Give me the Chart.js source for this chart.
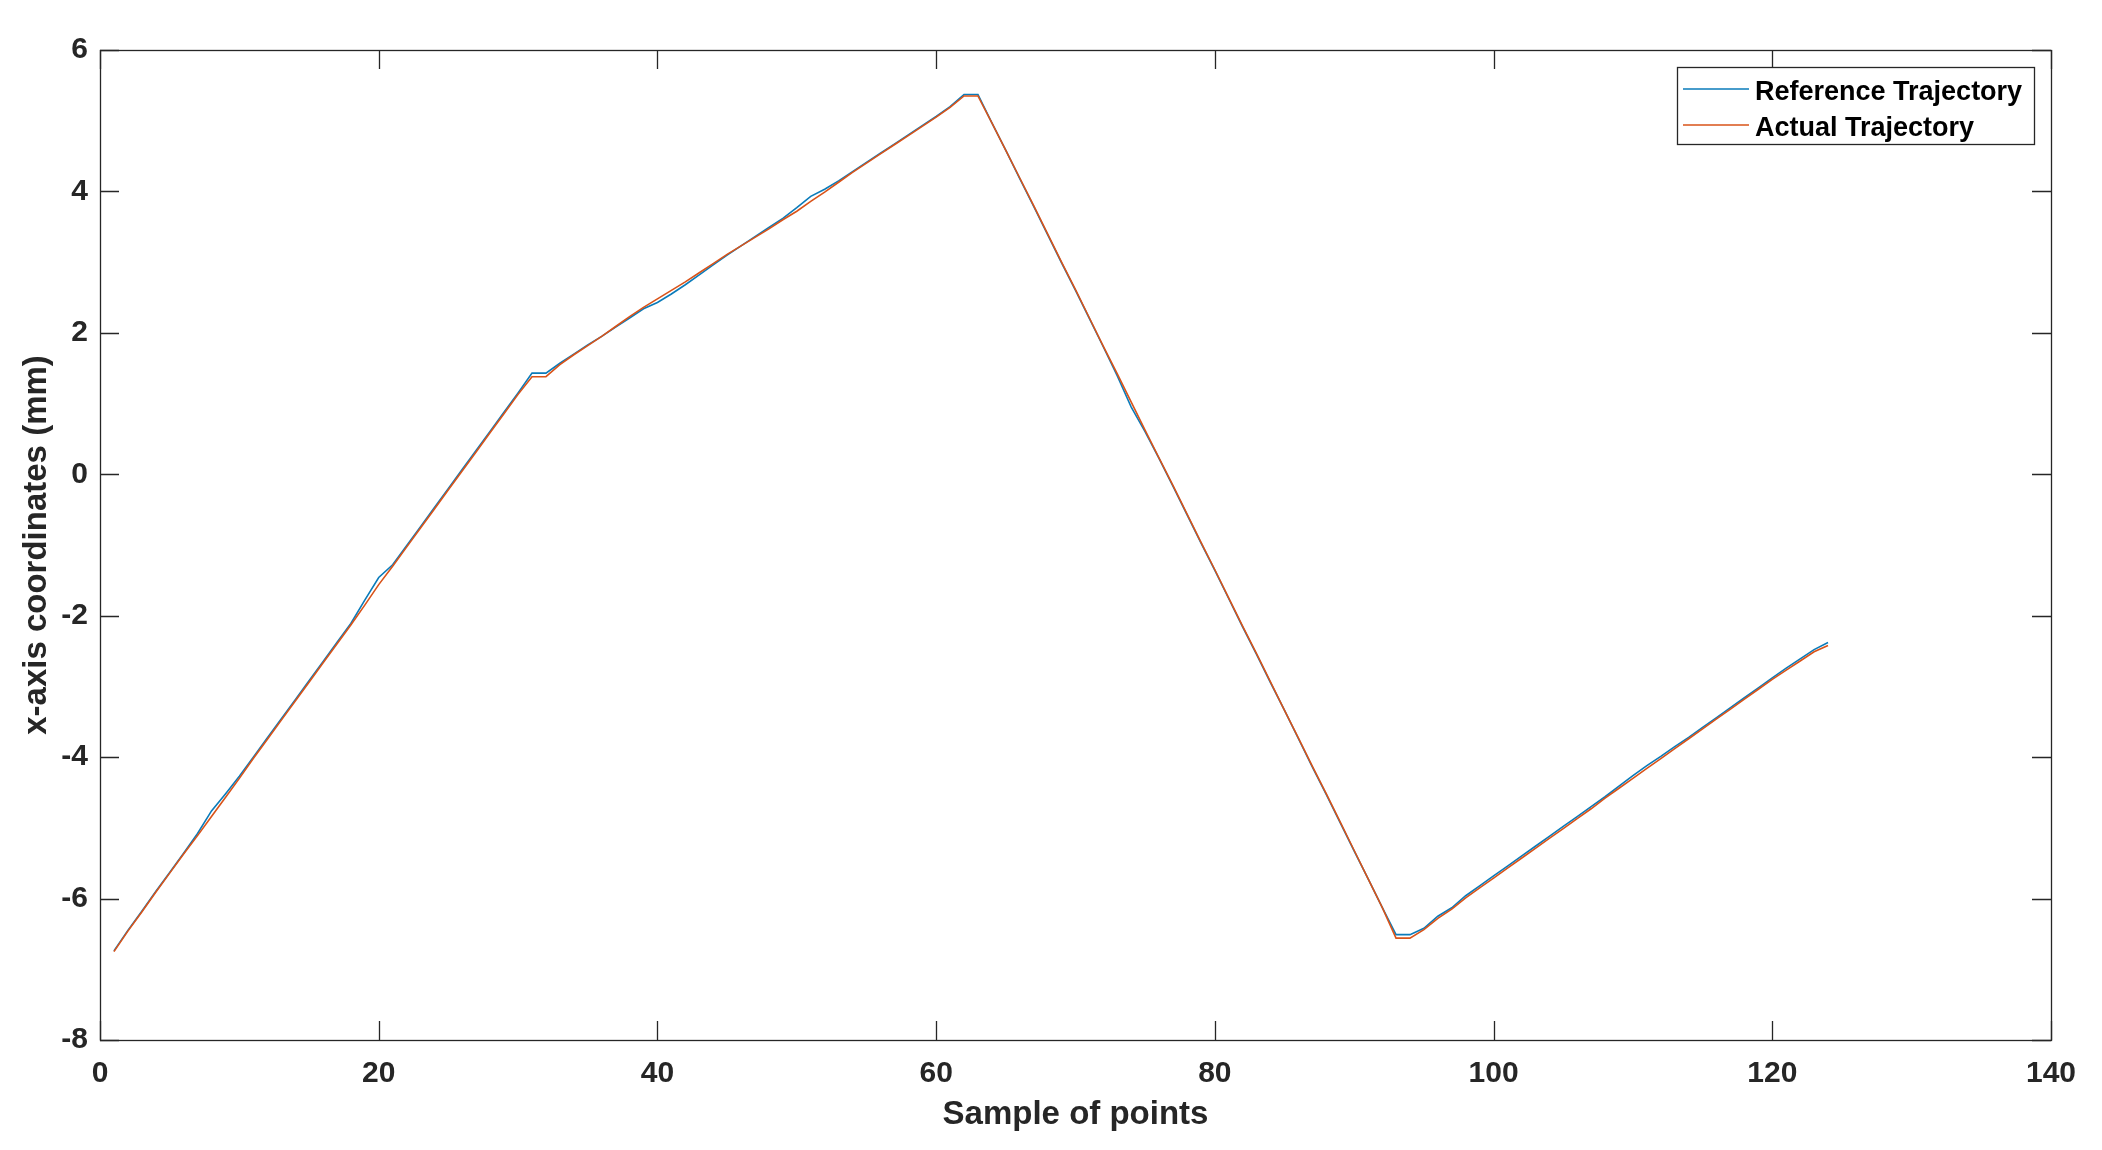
<!DOCTYPE html>
<html lang="en">
<head>
  <meta charset="UTF-8">
  <title>Trajectory - x axis</title>
  <script src="https://cdn.jsdelivr.net/npm/chart.js"></script>
  <style>
    html, body { margin: 0; padding: 0; background: #fff; }
    #wrap { width: 2102px; height: 1150px; }
  </style>
</head>
<body>
  <div id="wrap"><canvas id="grafico"></canvas></div>
  <script>
    // sample numbers 1..124
    const samples = Array.from({ length: 124 }, (_, i) => i + 1);

    const referenceX = [
      -6.74, -6.45, -6.18, -5.90, -5.63, -5.36, -5.08, -4.76, -4.52, -4.27,
      -4.00, -3.73, -3.46, -3.19, -2.92, -2.65, -2.38, -2.11, -1.78, -1.46,
      -1.28, -1.01, -0.74, -0.47, -0.20, 0.07, 0.34, 0.61, 0.88, 1.15,
      1.43, 1.43, 1.57, 1.70, 1.83, 1.95, 2.08, 2.21, 2.34, 2.43,
      2.55, 2.68, 2.82, 2.96, 3.10, 3.23, 3.36, 3.49, 3.62, 3.77,
      3.93, 4.03, 4.15, 4.28, 4.41, 4.54, 4.67, 4.80, 4.93, 5.06,
      5.20, 5.37, 5.37, 4.97, 4.58, 4.18, 3.79, 3.39, 2.99, 2.60,
      2.20, 1.80, 1.39, 0.95, 0.60, 0.22, -0.17, -0.57, -0.97, -1.36,
      -1.76, -2.16, -2.55, -2.95, -3.34, -3.74, -4.14, -4.53, -4.93, -5.33,
      -5.72, -6.12, -6.51, -6.51, -6.42, -6.25, -6.13, -5.96, -5.82, -5.68,
      -5.54, -5.40, -5.26, -5.12, -4.98, -4.84, -4.70, -4.56, -4.41, -4.26,
      -4.12, -3.99, -3.85, -3.72, -3.58, -3.44, -3.30, -3.16, -3.02, -2.88,
      -2.74, -2.61, -2.48, -2.38
    ];

    const actualX = [
      -6.75, -6.46, -6.19, -5.91, -5.64, -5.37, -5.11, -4.84, -4.57, -4.30,
      -4.02, -3.75, -3.48, -3.21, -2.94, -2.67, -2.40, -2.13, -1.85, -1.56,
      -1.30, -1.03, -0.76, -0.49, -0.22, 0.05, 0.32, 0.59, 0.86, 1.13,
      1.38, 1.38, 1.55, 1.69, 1.82, 1.95, 2.09, 2.23, 2.36, 2.48,
      2.60, 2.72, 2.85, 2.98, 3.11, 3.23, 3.35, 3.47, 3.60, 3.72,
      3.86, 3.99, 4.13, 4.27, 4.40, 4.53, 4.66, 4.79, 4.92, 5.05,
      5.19, 5.35, 5.35, 4.97, 4.58, 4.19, 3.80, 3.40, 3.00, 2.61,
      2.21, 1.81, 1.42, 1.02, 0.62, 0.23, -0.16, -0.56, -0.96, -1.35,
      -1.75, -2.15, -2.54, -2.94, -3.34, -3.73, -4.13, -4.52, -4.92, -5.32,
      -5.72, -6.12, -6.56, -6.56, -6.44, -6.28, -6.15, -5.99, -5.85, -5.71,
      -5.57, -5.43, -5.29, -5.15, -5.01, -4.87, -4.73, -4.58, -4.44, -4.30,
      -4.16, -4.02, -3.88, -3.74, -3.60, -3.46, -3.32, -3.18, -3.04, -2.90,
      -2.77, -2.64, -2.51, -2.42
    ];

    const xTicks = [0, 20, 40, 60, 80, 100, 120, 140];
    const yTicks = [-8, -6, -4, -2, 0, 2, 4, 6];
    const seriesNames = ["Reference Trajectory", "Actual Trajectory"];

    const eixo = "#262626";
    const fonte = "'Liberation Sans', Arial, sans-serif";

    const pontos = (ys) => samples.map((s, i) => ({ x: s, y: ys[i] }));

    // box, inward ticks on all four sides
    const moldura = {
      id: "moldura",
      afterDatasetsDraw(chart) {
        const { ctx, chartArea: a, scales } = chart;
        const tl = 19;
        ctx.save();
        ctx.strokeStyle = eixo;
        ctx.lineWidth = 1.3;
        ctx.beginPath();
        xTicks.forEach(v => {
          const px = Math.round(scales.x.getPixelForValue(v)) + 0.5;
          ctx.moveTo(px, a.bottom); ctx.lineTo(px, a.bottom - tl);
          ctx.moveTo(px, a.top); ctx.lineTo(px, a.top + tl);
        });
        yTicks.forEach(v => {
          const py = Math.round(scales.y.getPixelForValue(v)) + 0.5;
          ctx.moveTo(a.left, py); ctx.lineTo(a.left + tl, py);
          ctx.moveTo(a.right, py); ctx.lineTo(a.right - tl, py);
        });
        ctx.stroke();
        ctx.strokeRect(Math.round(a.left) + 0.5, Math.round(a.top) + 0.5,
          Math.round(a.right - a.left), Math.round(a.bottom - a.top));
        ctx.restore();
      }
    };

    // legend box in the top right corner of the plot
    const legenda = {
      id: "legenda",
      afterDraw(chart) {
        const { ctx, chartArea: a } = chart;
        const x0 = a.right - 374, y0 = a.top + 17, w = 357, h = 77;
        ctx.save();
        ctx.fillStyle = "#fff";
        ctx.fillRect(x0, y0, w, h);
        ctx.strokeStyle = eixo;
        ctx.lineWidth = 1.3;
        ctx.strokeRect(x0 + 0.5, y0 + 0.5, w, h);
        ctx.font = "bold 27px " + fonte;
        ctx.textBaseline = "middle";
        chart.data.datasets.forEach((ds, i) => {
          const yy = y0 + 22 + i * 36;
          ctx.strokeStyle = ds.borderColor;
          ctx.lineWidth = 1.5;
          ctx.beginPath();
          ctx.moveTo(x0 + 6, yy); ctx.lineTo(x0 + 72, yy);
          ctx.stroke();
          ctx.fillStyle = "#000";
          ctx.fillText(ds.label, x0 + 78, yy + 4);
        });
        ctx.restore();
      }
    };

    const ctx = document.getElementById("grafico").getContext("2d");
    const grafico = new Chart(ctx, {
      type: "line",
      data: {
        datasets: [
          {
            label: seriesNames[0],
            data: pontos(referenceX),
            borderColor: "#0A7BBA",
            borderWidth: 1.6,
            pointRadius: 0,
            tension: 0,
            order: 1
          },
          {
            label: seriesNames[1],
            data: pontos(actualX),
            borderColor: "#D95319",
            borderWidth: 1.6,
            pointRadius: 0,
            tension: 0,
            order: 0
          }
        ]
      },
      options: {
        responsive: true,
        maintainAspectRatio: false,
        animation: false,
        layout: { padding: { left: 17, top: 50, right: 51, bottom: 15 } },
        plugins: {
          legend: { display: false },
          tooltip: { enabled: false }
        },
        scales: {
          x: {
            type: "linear",
            min: 0,
            max: 140,
            afterBuildTicks: (s) => { s.ticks = xTicks.map(v => ({ value: v })); },
            afterFit: (s) => { s.height = 95; },
            grid: { display: false, drawTicks: false },
            border: { display: false },
            ticks: {
              color: eixo,
              padding: 16,
              maxRotation: 0,
              font: { family: fonte, size: 30, weight: "bold" }
            },
            title: {
              display: true,
              text: "Sample of points",
              color: eixo,
              padding: { top: 0, bottom: 0 },
              font: { family: fonte, size: 33, weight: "bold" }
            }
          },
          y: {
            min: -8,
            max: 6,
            afterBuildTicks: (s) => { s.ticks = yTicks.map(v => ({ value: v })); },
            afterFit: (s) => { s.width = 83; },
            grid: { display: false, drawTicks: false },
            border: { display: false },
            ticks: {
              color: eixo,
              padding: 12,
              font: { family: fonte, size: 30, weight: "bold" }
            },
            title: {
              display: true,
              text: "x-axis coordinates (mm)",
              color: eixo,
              padding: { top: 0, bottom: 0 },
              font: { family: fonte, size: 33, weight: "bold" }
            }
          }
        }
      },
      plugins: [moldura, legenda]
    });
  </script>
</body>
</html>
